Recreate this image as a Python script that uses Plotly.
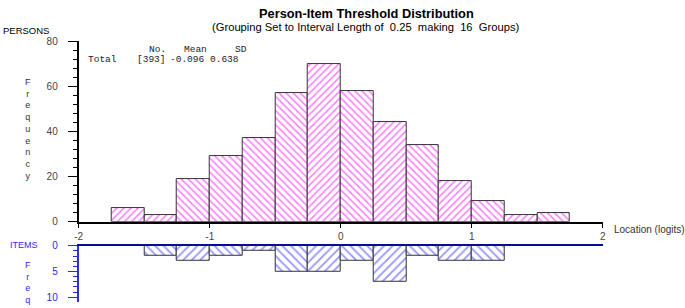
import plotly.graph_objects as go

W, H = 685, 308

bin_left = [-1.75, -1.5, -1.25, -1.0, -0.75, -0.5, -0.25, 0.0, 0.25, 0.5, 0.75, 1.0, 1.25, 1.5]
person_counts = [6, 3, 19, 29, 37, 57, 70, 58, 44, 34, 18, 9, 3, 4]
person_hatch = ["/", "/", "\\", "\\", "\\", "\\", "/", "\\", "/", "\\", "/", "\\", "/", "\\"]

item_left = [-1.5, -1.25, -1.0, -0.75, -0.5, -0.25, 0.0, 0.25, 0.5, 0.75, 1.0]
item_counts = [2, 3, 2, 1, 5, 5, 3, 7, 2, 3, 3]
item_hatch = ["\\", "/", "\\", "/", "\\", "/", "\\", "/", "\\", "/", "\\"]

x_ticks = [-2, -1, 0, 1, 2]
bin_width = 0.25

stats_header = ["No.", "Mean", "SD"]
stats_row = ["Total", "[393]", "-0.096", "0.638"]

SANS = "Liberation Sans, Arial, sans-serif"
MONO = "Liberation Mono, Courier New, monospace"
BLUE = "#2a2aff"
NAVY = "#0a0a9a"


def px_x(p):
    return p / W


def px_y(p):
    return 1 - p / H


fig = go.Figure()

fig.add_trace(go.Bar(
    x=[l + bin_width / 2 for l in bin_left], y=person_counts, width=bin_width,
    marker=dict(color="white", line=dict(color="#333333", width=1),
                pattern=dict(shape=person_hatch, fgcolor="#ff00ff", bgcolor="white",
                             size=5, solidity=0.32)),
    xaxis="x", yaxis="y", showlegend=False, hoverinfo="skip"))

fig.add_trace(go.Bar(
    x=[l + bin_width / 2 for l in item_left], y=item_counts, width=bin_width,
    marker=dict(color="white", line=dict(color="#333333", width=1),
                pattern=dict(shape=item_hatch, fgcolor="#2a2aff", bgcolor="white",
                             size=6, solidity=0.3)),
    xaxis="x2", yaxis="y2", showlegend=False, hoverinfo="skip"))

xdom = [px_x(75.5), px_x(605)]

fig.update_layout(
    width=W, height=H, autosize=False,
    margin=dict(l=0, r=0, t=0, b=0),
    paper_bgcolor="white", plot_bgcolor="white",
    bargap=0,
    xaxis=dict(domain=xdom, range=[-2, 2], anchor="y", tickvals=x_ticks,
               ticktext=[str(v) for v in x_ticks],
               showline=True, linecolor="black", linewidth=2, ticks="outside",
               ticklen=4, tickcolor="black", showgrid=False, zeroline=False,
               tickfont=dict(family=SANS, size=10, color="#444444")),
    yaxis=dict(domain=[px_y(224.5), px_y(36.5)], range=[0, 80], anchor="x",
               dtick=20, tick0=0, showline=True, linecolor="black", linewidth=2,
               ticks="outside", ticklen=9, tickcolor="black", showgrid=False,
               zeroline=False, ticklabelstandoff=8,
               minor=dict(dtick=4, tick0=0, ticks="outside", ticklen=4, tickcolor="black"),
               tickfont=dict(family=SANS, size=10, color="#444444")),
    xaxis2=dict(domain=xdom, range=[-2, 2], anchor="y2", side="top",
                showline=True, linecolor=NAVY, linewidth=2, ticks="",
                showticklabels=False, showgrid=False, zeroline=False),
    yaxis2=dict(domain=[0, px_y(249.5)], range=[10.93, 0], anchor="x2",
                tickvals=[0, 5, 10], showline=True, linecolor=BLUE, linewidth=2,
                ticks="outside", ticklen=9, tickcolor=BLUE, showgrid=False,
                zeroline=False, ticklabelstandoff=8,
                minor=dict(dtick=1, tick0=0, ticks="outside", ticklen=4, tickcolor=BLUE),
                tickfont=dict(family=SANS, size=10, color=BLUE)),
)

ann = []
ann.append(dict(text="<b>Person-Item Threshold Distribution</b>", x=px_x(366), y=px_y(8),
                font=dict(family=SANS, size=12.8, color="black")))
ann.append(dict(text="(Grouping Set to Interval Length of  0.25  making  16  Groups)",
                x=px_x(365), y=px_y(21.5), font=dict(family=SANS, size=11.2, color="black")))
ann.append(dict(text="PERSONS", x=px_x(-3), y=px_y(26), xanchor="left",
                font=dict(family=SANS, size=9.5, color="black")))
ann.append(dict(text="ITEMS", x=px_x(4), y=px_y(249), xanchor="left",
                font=dict(family=SANS, size=9, color=BLUE)))
ann.append(dict(text="Location (logits)", x=px_x(614), y=px_y(233), xanchor="left",
                font=dict(family=SANS, size=10, color="#333333")))
ann.append(dict(text="<br>".join("Frequency"), x=px_x(24), y=px_y(127.5),
                font=dict(family=SANS, size=9, color="#333333")))
ann.append(dict(text="<br>".join("Frequency"), x=px_x(24), y=px_y(262), yanchor="top",
                font=dict(family=SANS, size=9, color=BLUE)))

for t, xp in zip(stats_header, [144, 180, 231]):
    ann.append(dict(text=t, x=px_x(xp), y=px_y(45), xanchor="left",
                    font=dict(family=MONO, size=9.5, color="#222222")))
for t, xp in zip(stats_row, [83, 132, 166, 206]):
    ann.append(dict(text=t, x=px_x(xp), y=px_y(56), xanchor="left",
                    font=dict(family=MONO, size=9.5, color="#222222")))

for a in ann:
    a.update(xref="paper", yref="paper", showarrow=False)
    a.setdefault("xanchor", "center")
    a.setdefault("yanchor", "middle")
fig.update_layout(annotations=ann)

fig.write_html("out.html", config={"displayModeBar": False},
               post_script="document.body.style.margin='0';document.body.style.padding='0';")
